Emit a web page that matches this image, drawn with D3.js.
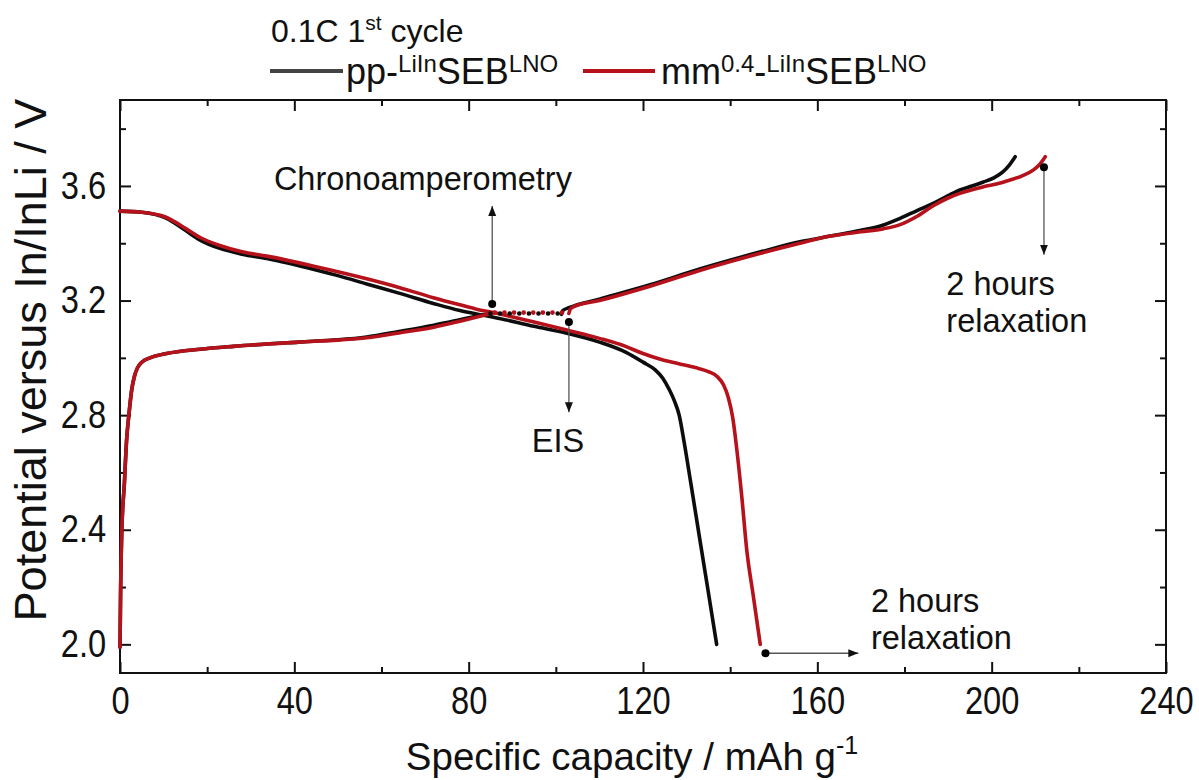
<!DOCTYPE html>
<html>
<head>
<meta charset="utf-8">
<script src="https://cdn.jsdelivr.net/npm/d3@7"></script>
<style>
  html, body { margin: 0; padding: 0; background: #fff; }
  svg { display: block; }
  text { font-family: "Liberation Sans", Arial, Helvetica, sans-serif; fill: #111; }
</style>
</head>
<body>
<svg id="chart" width="1199" height="780"></svg>
<script>
// ---- data: specific capacity (mAh g-1) vs potential (V vs In/InLi) ----
const xTicks = [0, 40, 80, 120, 160, 200, 240];
const yTicks = [2.0, 2.4, 2.8, 3.2, 3.6];

// pp- cell, charge up to the EIS/relaxation step
const ppChargeA = [[0,1.99],[0.15,2.2],[0.4,2.39],[1.0,2.56],[1.5,2.71],[2.1,2.81],[2.7,2.89],[3.3,2.935],[4.0,2.965],[5.0,2.985],[6.9,3.0],[10.7,3.015],[18.4,3.03],[26,3.04],[41,3.055],[50,3.063],[56.6,3.073],[64,3.092],[72,3.114],[78,3.133],[82.6,3.148],[85,3.155]];
// pp- cell, rest period (dotted)
const ppRest = [[85,3.155],[101.3,3.155]];
// pp- cell, charge after the step
const ppChargeB = [[101.3,3.152],[101.6,3.165],[103,3.175],[110,3.205],[121.6,3.255],[133,3.31],[147,3.37],[156,3.405],[163,3.425],[170,3.445],[175,3.463],[179,3.487],[183,3.515],[186.6,3.539],[190,3.566],[192.7,3.586],[195.5,3.6],[198.1,3.614],[200.5,3.628],[202.5,3.648],[204,3.672],[205.4,3.702]];
// pp- cell, discharge
const ppDischarge = [[0,3.512],[5,3.508],[10.7,3.487],[15,3.445],[18.4,3.411],[22.9,3.382],[28,3.362],[33.7,3.347],[45,3.307],[50,3.287],[56.6,3.258],[64.2,3.225],[71.9,3.19],[78,3.165],[81.8,3.153],[85.7,3.142],[95,3.11],[102.5,3.086],[110,3.055],[116,3.02],[120,2.985],[122.8,2.958],[124.5,2.93],[126,2.89],[127.2,2.85],[128.3,2.8],[129.5,2.7],[131,2.56],[133,2.37],[134.8,2.2],[136.9,2.0]];

// mm0.4- cell
const mmChargeA = [[0,1.99],[0.15,2.2],[0.4,2.39],[1.0,2.56],[1.5,2.71],[2.1,2.81],[2.7,2.89],[3.3,2.935],[4.0,2.965],[5.0,2.985],[6.9,3.0],[10.7,3.015],[18.4,3.03],[26,3.04],[41,3.055],[50,3.062],[56.6,3.07],[64,3.087],[72,3.107],[78,3.128],[82.6,3.145],[86,3.158]];
const mmRest = [[86,3.158],[103,3.158]];
const mmChargeB = [[103,3.155],[103.3,3.17],[104,3.178],[110,3.2],[121.6,3.25],[133,3.305],[147,3.365],[156,3.4],[163,3.425],[170,3.44],[175,3.45],[179,3.465],[183,3.495],[186.6,3.531],[190,3.558],[192.7,3.574],[198.1,3.597],[202,3.61],[204.2,3.621],[207,3.635],[209.6,3.656],[211,3.675],[212.3,3.702]];
const mmDischarge = [[0,3.512],[5,3.508],[10.7,3.49],[15,3.452],[18.4,3.42],[22.9,3.392],[28,3.37],[33.7,3.355],[45,3.318],[56.6,3.276],[64.2,3.245],[71.9,3.21],[78,3.185],[81.8,3.17],[85.7,3.158],[95,3.125],[102.5,3.097],[110,3.068],[116,3.04],[120,3.015],[124,2.995],[128,2.98],[132,2.966],[135,2.952],[137,2.935],[138.5,2.905],[139.6,2.86],[140.6,2.79],[141.6,2.67],[142.7,2.51],[143.8,2.33],[145.3,2.17],[146.9,2.0]];

const seriesColors = ["#0d0d0d", "#b5121b"];

// annotation anchors in data units
const notes = [
  { label: ["Chronoamperometry"], dot: [85.4, 3.188], tip: [85.4, 3.53], text: [69.5, 3.586], anchor: "middle" },
  { label: ["EIS"], dot: [103.0, 3.125], tip: [103.0, 2.81], text: [100.5, 2.671], anchor: "middle" },
  { label: ["2 hours", "relaxation"], dot: [212.0, 3.665], tip: [212.0, 3.36], text: [189.6, 3.219], anchor: "start" },
  { label: ["2 hours", "relaxation"], dot: [148.1, 1.969], tip: [169.4, 1.969], text: [172.3, 2.114], anchor: "start" }
];

// ---- layout ----
const svg = d3.select("#chart");
const X0 = 120, X1 = 1166, Y0 = 100, Y1 = 673;
const x = d3.scaleLinear().domain([0, 240]).range([X0, X1]);
const y = d3.scaleLinear().domain([1.9, 3.9]).range([Y1, Y0]);

const defs = svg.append("defs");
defs.append("marker").attr("id", "arrowHead")
  .attr("viewBox", "0 0 10 10").attr("refX", 10).attr("refY", 5)
  .attr("markerWidth", 10).attr("markerHeight", 10)
  .attr("markerUnits", "userSpaceOnUse").attr("orient", "auto")
  .append("path").attr("d", "M0,1 L10,5 L0,9 Z").attr("fill", "#111");

// ---- axes: major labelled ticks plus minor ticks, mirrored on all sides ----
const minorX = d3.range(20, 240, 40);
const minorY = [2.2, 2.6, 3.0, 3.4, 3.8];
const fmtY = d3.format(".1f");

function tickStyle(g) {
  g.select(".domain").remove();
  g.selectAll("line").attr("stroke", "#111").attr("stroke-width", 2);
  g.selectAll("text").style("font-size", "38px").attr("fill", "#111").attr("transform", "scale(0.86,1)");
}

svg.append("g").attr("transform", `translate(0,${Y1})`)
  .call(d3.axisBottom(x).tickValues(xTicks).tickSize(-11).tickPadding(14).tickFormat(d3.format("d")))
  .call(tickStyle);
svg.append("g").attr("transform", `translate(0,${Y1})`)
  .call(d3.axisBottom(x).tickValues(minorX).tickSize(-6).tickFormat(""))
  .call(tickStyle);
svg.append("g").attr("transform", `translate(0,${Y0})`)
  .call(d3.axisTop(x).tickValues(xTicks).tickSize(-11).tickFormat(""))
  .call(tickStyle);
svg.append("g").attr("transform", `translate(0,${Y0})`)
  .call(d3.axisTop(x).tickValues(minorX).tickSize(-6).tickFormat(""))
  .call(tickStyle);

svg.append("g").attr("transform", `translate(${X0},0)`)
  .call(d3.axisLeft(y).tickValues(yTicks).tickSize(-11).tickPadding(16).tickFormat(fmtY))
  .call(tickStyle);
svg.append("g").attr("transform", `translate(${X0},0)`)
  .call(d3.axisLeft(y).tickValues(minorY).tickSize(-6).tickFormat(""))
  .call(tickStyle);
svg.append("g").attr("transform", `translate(${X1},0)`)
  .call(d3.axisRight(y).tickValues(yTicks).tickSize(-11).tickFormat(""))
  .call(tickStyle);
svg.append("g").attr("transform", `translate(${X1},0)`)
  .call(d3.axisRight(y).tickValues(minorY).tickSize(-6).tickFormat(""))
  .call(tickStyle);

// plot frame
svg.append("rect").attr("x", X0).attr("y", Y0).attr("width", X1 - X0).attr("height", Y1 - Y0)
  .attr("fill", "none").attr("stroke", "#111").attr("stroke-width", 2);

// ---- curves ----
const line = d3.line().x(d => x(d[0])).y(d => y(d[1])).curve(d3.curveMonotoneX);
const lineStraight = d3.line().x(d => x(d[0])).y(d => y(d[1]));
const curves = svg.append("g").attr("fill", "none").attr("stroke-linejoin", "round").attr("stroke-linecap", "round");

const cells = [[ppChargeA, ppChargeB, ppDischarge, ppRest], [mmChargeA, mmChargeB, mmDischarge, mmRest]];
cells.forEach((segs, i) => {
  segs.slice(0, 3).forEach(s => {
    curves.append("path").attr("d", line(s)).attr("stroke", seriesColors[i]).attr("stroke-width", 3.6);
  });
});
cells.forEach((segs, i) => {
  curves.append("path").attr("d", lineStraight(segs[3])).attr("stroke", seriesColors[i])
    .attr("stroke-width", 4.6).attr("stroke-dasharray", "0.1 9.5");
});

// ---- annotations ----
const ann = svg.append("g");
notes.forEach(n => {
  ann.append("line").attr("x1", x(n.dot[0])).attr("y1", y(n.dot[1]))
    .attr("x2", x(n.tip[0])).attr("y2", y(n.tip[1]))
    .attr("stroke", "#555").attr("stroke-width", 1.3).attr("marker-end", "url(#arrowHead)");
  ann.append("circle").attr("cx", x(n.dot[0])).attr("cy", y(n.dot[1])).attr("r", 4).attr("fill", "#000");
  const t = ann.append("text").attr("x", x(n.text[0])).attr("y", y(n.text[1]))
    .attr("text-anchor", n.anchor).style("font-size", "32.5px");
  n.label.forEach((s, k) => t.append("tspan").attr("x", x(n.text[0])).attr("dy", k ? 37 : 0).text(s));
});

// ---- axis titles ----
const xt = svg.append("text").attr("x", 632).attr("y", 770).attr("text-anchor", "middle").style("font-size", "38.5px");
xt.append("tspan").text("Specific capacity / mAh g");
xt.append("tspan").attr("dy", -16).style("font-size", "25px").text("-1");

svg.append("text").attr("transform", "translate(46,360) rotate(-90)")
  .attr("text-anchor", "middle").style("font-size", "45px")
  .text("Potential versus In/InLi / V");

// ---- legend ----
const leg = svg.append("g");
const title = leg.append("text").attr("x", 271).attr("y", 42).style("font-size", "32px");
title.append("tspan").text("0.1C 1");
title.append("tspan").attr("dy", -12).style("font-size", "21px").text("st");
title.append("tspan").attr("dy", 12).text(" cycle");

function legendLabel(g, xPos, parts) {
  const t = g.append("text").attr("x", xPos).attr("y", 84).style("font-size", "36px");
  let shift = 0;
  parts.forEach(([s, sup]) => {
    const target = sup ? -12 : 0;
    t.append("tspan").attr("dy", target - shift).style("font-size", sup ? "24px" : "36px").text(s);
    shift = target;
  });
}
leg.append("line").attr("x1", 270).attr("x2", 343).attr("y1", 71).attr("y2", 71)
  .attr("stroke", "#444").attr("stroke-width", 4);
legendLabel(leg, 346, [["pp-", false], ["LiIn", true], ["SEB", false], ["LNO", true]]);
leg.append("line").attr("x1", 583).attr("x2", 655).attr("y1", 71).attr("y2", 71)
  .attr("stroke", seriesColors[1]).attr("stroke-width", 4);
legendLabel(leg, 661, [["mm", false], ["0.4", true], ["-", false], ["LiIn", true], ["SEB", false], ["LNO", true]]);
</script>
</body>
</html>
